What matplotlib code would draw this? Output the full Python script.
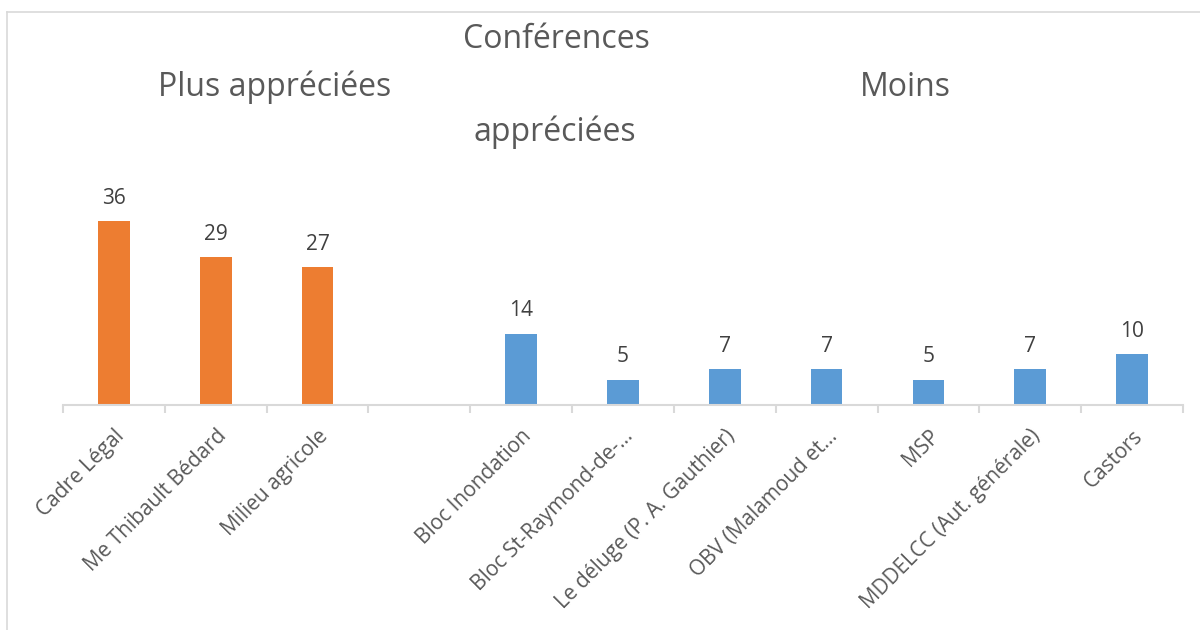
import matplotlib
matplotlib.use("Agg")
import matplotlib.pyplot as plt
from matplotlib.lines import Line2D

categories = ["Cadre Légal", "Me Thibault Bédard", "Milieu agricole", "",
              "Bloc Inondation", "Bloc St-Raymond-de-…", "Le déluge (P. A. Gauthier)",
              "OBV (Malamoud et…", "MSP", "MDDELCC (Aut. générale)", "Castors"]
plus_values = [36, 29, 27, None, None, None, None, None, None, None, None]
moins_values = [None, None, None, None, 14, 5, 7, 7, 5, 7, 10]

ORANGE = "#ED7D31"
BLUE = "#5B9BD5"
TXT = "#595959"
GRID = "#D9D9D9"

plt.rcParams['font.family'] = ['Open Sans', 'DejaVu Sans']

W, H = 1200, 630
fig = plt.figure(figsize=(12, 6.3), dpi=100)
ax_left, ax_right = 63, 1183
ax_bottom_px = 405
ymax = 40
px_per_unit = (405 - 221.5) / 36
ax_h = ymax * px_per_unit
ax = fig.add_axes([ax_left / W, (H - ax_bottom_px) / H, (ax_right - ax_left) / W, ax_h / H])

x = list(range(len(categories)))
bw = 0.31
for i, v in enumerate(plus_values):
    if v is not None:
        ax.bar(i, v, width=bw, color=ORANGE)
        ax.annotate(str(v), (i, v), xytext=(0, 9), textcoords='offset points',
                    ha='center', va='bottom', fontsize=15, color="#404040")
for i, v in enumerate(moins_values):
    if v is not None:
        ax.bar(i, v, width=bw, color=BLUE)
        ax.annotate(str(v), (i, v), xytext=(0, 9), textcoords='offset points',
                    ha='center', va='bottom', fontsize=15, color="#404040")

ax.set_xlim(-0.5, len(categories) - 0.5)
ax.set_ylim(0, ymax)
for s in ['top', 'right', 'left']:
    ax.spines[s].set_visible(False)
ax.spines['bottom'].set_color(GRID)
ax.spines['bottom'].set_linewidth(1.5)
ax.set_yticks([])
ax.set_xticks([i - 0.5 for i in range(len(categories) + 1)], minor=False)
ax.set_xticklabels([])
ax.tick_params(axis='x', which='major', length=6, color=GRID, width=1.5)
ax.set_xticks(x, minor=True)
ax.set_xticklabels(categories, minor=True, rotation=45, ha='right',
                   rotation_mode='anchor', fontsize=15, color=TXT)
ax.tick_params(axis='x', which='minor', length=0, pad=15)

fig.text(556 / W, 1 - 40 / H, "Conférences", ha='center', va='center', fontsize=23, color=TXT)
fig.text(275 / W, 1 - 87 / H, "Plus appréciées", ha='center', va='center', fontsize=23, color=TXT)
fig.text(905 / W, 1 - 87 / H, "Moins", ha='center', va='center', fontsize=23, color=TXT)
fig.text(555 / W, 1 - 132 / H, "appréciées", ha='center', va='center', fontsize=23, color=TXT)

# chart border
fig.add_artist(Line2D([7 / W, 1.0], [1 - 12 / H, 1 - 12 / H], transform=fig.transFigure, color=GRID, lw=1.2))
fig.add_artist(Line2D([7 / W, 7 / W], [0, 1 - 12 / H], transform=fig.transFigure, color=GRID, lw=1.2))

fig.savefig("out.png", dpi=100, facecolor='white')
